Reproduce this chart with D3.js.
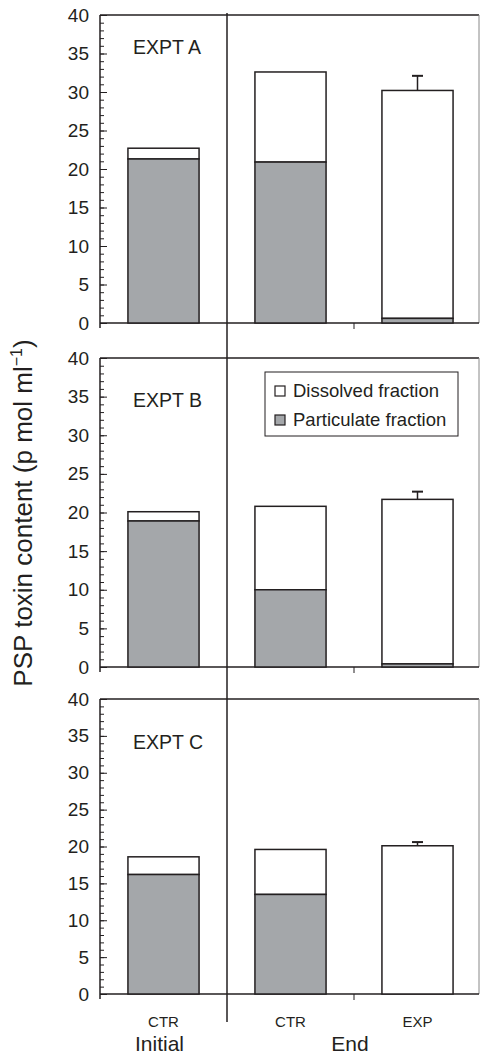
<!DOCTYPE html>
<html>
<head>
<meta charset="utf-8">
<script src="https://cdn.jsdelivr.net/npm/d3@7"></script>
<style>
  body { margin: 0; background: #fff; }
  text { font-family: "Liberation Sans", Arial, sans-serif; fill: #231f20; }
</style>
</head>
<body>
<div id="chart"></div>
<script>
// experiments (one panel each)
var experiments = ["EXPT A", "EXPT B", "EXPT C"];
// bars inside each panel
var barIds = ["initCTR", "endCTR", "endEXP"];
var barLabels = ["CTR", "CTR", "EXP"];
var phases = ["Initial", "End"];

// particulate fraction (grey part), per experiment
var particulate = [
  [21.3, 20.9, 0.6],
  [18.9, 10.0, 0.4],
  [16.2, 13.5, 0.0]
];
// dissolved fraction (white part stacked on top)
var dissolved = [
  [1.4, 11.7, 29.6],
  [1.2, 10.8, 21.3],
  [2.4, 6.1, 20.1]
];
// error bar (upper only), null = none
var errors = [
  [null, null, 1.9],
  [null, null, 1.0],
  [null, null, 0.5]
];
var yTicks = [0, 5, 10, 15, 20, 25, 30, 35, 40];

var W = 480, H = 1058;
var left = 100, right = 479;
var panels = [
  {top: 15, bottom: 323, label: 39},
  {top: 358, bottom: 667, label: 49},
  {top: 699, bottom: 994, label: 50}
];
var ink = "#231f20", grey = "#a4a7aa";

var svg = d3.select("#chart")
  .append("svg")
    .attr("width", W)
    .attr("height", H);

var x = d3.scaleBand()
  .domain(barIds)
  .range([left, left + 381])
  .padding(0);
var barW = x.bandwidth() * 0.56;

experiments.forEach(function(name, i) {
  var p = panels[i];
  var y = d3.scaleLinear().domain([0, 40]).range([p.bottom, p.top]);
  var g = svg.append("g");

  // frame: top and right
  g.append("line").attr("x1", left).attr("x2", right).attr("y1", p.top).attr("y2", p.top)
    .attr("stroke", ink).attr("stroke-width", 1.5);
  g.append("line").attr("x1", right).attr("x2", right).attr("y1", p.top).attr("y2", p.bottom)
    .attr("stroke", "#888").attr("stroke-width", 1);

  // minor ticks
  g.append("g")
    .attr("transform", "translate(" + left + ",0)")
    .call(d3.axisLeft(y).tickValues(d3.range(0, 41, 1)).tickSize(-4).tickFormat(""))
    .call(function(a) { a.select(".domain").remove(); a.selectAll("line").attr("stroke", ink); });

  // major ticks + labels
  g.append("g")
    .attr("transform", "translate(" + left + ",0)")
    .call(d3.axisLeft(y).tickValues(yTicks).tickSizeInner(-7).tickSizeOuter(0).tickPadding(11))
    .call(function(a) {
      a.select(".domain").remove();
      a.selectAll("line").attr("stroke", ink);
      a.selectAll("text").attr("font-size", 19).attr("font-family", "Liberation Sans, Arial, sans-serif").attr("fill", ink);
    });

  // y axis line
  g.append("line").attr("x1", left).attr("x2", left).attr("y1", p.top).attr("y2", p.bottom + 5)
    .attr("stroke", ink).attr("stroke-width", 1.5);
  // x axis line
  g.append("line").attr("x1", left).attr("x2", right).attr("y1", p.bottom).attr("y2", p.bottom)
    .attr("stroke", ink).attr("stroke-width", 1.5);
  // tick between CTR and EXP
  g.append("line")
    .attr("x1", x("endEXP")).attr("x2", x("endEXP"))
    .attr("y1", p.bottom).attr("y2", p.bottom + 6)
    .attr("stroke", ink).attr("stroke-width", 1);

  // bars
  barIds.forEach(function(id, j) {
    var cx = x(id) + x.bandwidth() / 2;
    var part = particulate[i][j], tot = part + dissolved[i][j];
    if (errors[i][j] != null) {
      g.append("line").attr("x1", cx).attr("x2", cx)
        .attr("y1", y(tot)).attr("y2", y(tot + errors[i][j]))
        .attr("stroke", ink).attr("stroke-width", 1.5);
      g.append("line").attr("x1", cx - 5.5).attr("x2", cx + 5.5)
        .attr("y1", y(tot + errors[i][j])).attr("y2", y(tot + errors[i][j]))
        .attr("stroke", ink).attr("stroke-width", 2);
    }
    g.append("rect")
      .attr("x", cx - barW / 2).attr("width", barW)
      .attr("y", y(tot)).attr("height", y(part) - y(tot))
      .attr("fill", "#fff").attr("stroke", ink).attr("stroke-width", 1.5);
    if (part > 0) {
      g.append("rect")
        .attr("x", cx - barW / 2).attr("width", barW)
        .attr("y", y(part)).attr("height", y(0) - y(part))
        .attr("fill", grey).attr("stroke", ink).attr("stroke-width", 1.5);
    }
  });

  g.append("text")
    .attr("x", 133).attr("y", p.top + p.label)
    .attr("font-size", 19.5)
    .text(name);
});

// divider between Initial and End
svg.append("line")
  .attr("x1", x("endCTR")).attr("x2", x("endCTR"))
  .attr("y1", 13).attr("y2", 1022)
  .attr("stroke", ink).attr("stroke-width", 1.5);

// legend in panel B
var lg = svg.append("g").attr("transform", "translate(265,372)");
lg.append("rect").attr("width", 193).attr("height", 64)
  .attr("fill", "#fff").attr("stroke", ink).attr("stroke-width", 1);
[["Dissolved fraction", "#fff"], ["Particulate fraction", grey]].forEach(function(d, k) {
  lg.append("rect").attr("x", 10).attr("y", 14 + k * 29).attr("width", 10).attr("height", 10)
    .attr("fill", d[1]).attr("stroke", ink).attr("stroke-width", 1.2);
  lg.append("text").attr("x", 28).attr("y", 25 + k * 29).attr("font-size", 18.5).text(d[0]);
});

// x labels
barIds.forEach(function(id, j) {
  svg.append("text")
    .attr("x", x(id) + x.bandwidth() / 2).attr("y", 1027)
    .attr("text-anchor", "middle").attr("font-size", 15)
    .text(barLabels[j]);
});
svg.append("text").attr("x", x("initCTR") + x.bandwidth() / 2 - 4).attr("y", 1051)
  .attr("text-anchor", "middle").attr("font-size", 21).text(phases[0]);
svg.append("text").attr("x", x("endEXP") - 4).attr("y", 1051)
  .attr("text-anchor", "middle").attr("font-size", 21).text(phases[1]);

// y axis title
var yt = svg.append("text")
  .attr("transform", "translate(32,513) rotate(-90)")
  .attr("text-anchor", "middle").attr("font-size", 26);
yt.append("tspan").text("PSP toxin content (p mol ml");
yt.append("tspan").attr("font-size", 16).attr("dy", -10).text("\u22121");
yt.append("tspan").attr("dy", 10).text(")");
</script>
</body>
</html>
